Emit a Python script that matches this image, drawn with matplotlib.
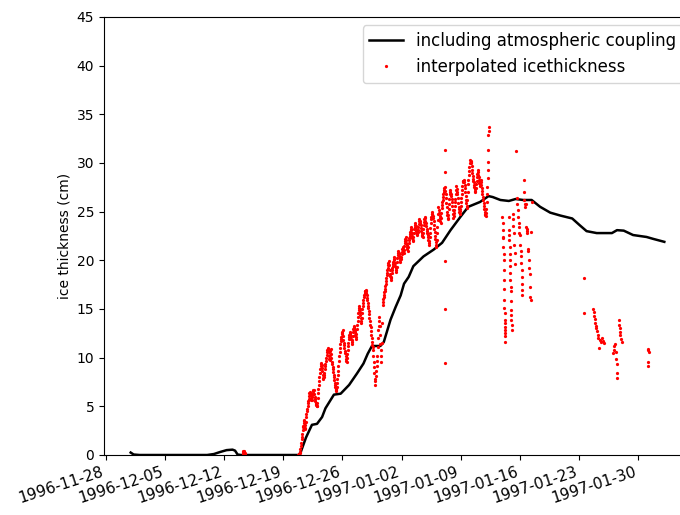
import numpy as np
import pandas as pd
import matplotlib
matplotlib.use("Agg")
import matplotlib.pyplot as plt
import matplotlib.dates as mdates

t0 = pd.Timestamp("1996-11-28 00:00")

# modelled ice thickness (cm), including atmospheric coupling
model_day = [2.95, 3.3, 4.0, 10.0, 12.0, 12.8, 13.5, 14.3, 15.0, 15.3, 15.6, 16.0,
             22.8, 23.05, 23.7, 24.4, 25.0, 25.6, 26.0, 27.0, 27.8, 28.8, 29.75,
             30.5, 31.0, 31.5, 32.5, 32.9, 33.7, 34.3, 34.9, 35.3, 35.85, 36.4,
             37.6, 38.8, 39.8, 40.8, 42.0, 42.9, 44.3, 45.3, 45.8, 46.7, 47.7,
             48.5, 49.4, 50.4, 51.4, 52.6, 53.8, 55.2, 56.1, 56.9, 58.1, 59.9,
             60.5, 61.3, 62.4, 64.0, 64.8, 66.1]
model_cm = [0.25, 0.05, 0.0, 0.0, 0.0, 0.1, 0.3, 0.5, 0.55, 0.45, 0.05, 0.0,
            0.0, 0.24, 1.8, 3.1, 3.2, 3.9, 4.8, 6.2, 6.3, 7.2, 8.4,
            9.4, 10.4, 11.2, 11.2, 11.6, 13.9, 15.2, 16.4, 17.6, 18.3, 19.4,
            20.4, 21.1, 21.8, 23.1, 24.5, 25.5, 26.0, 26.6, 26.5, 26.2, 26.1,
            26.3, 26.2, 26.2, 25.5, 24.9, 24.6, 24.3, 23.6, 23.0, 22.8, 22.8,
            23.1, 23.05, 22.6, 22.4, 22.2, 21.9]

# interpolated ice thickness (cm), hourly from 1996-12-20 18:00
obs_start = "1996-12-20 18:00"
obs_step = "1h"
obs_cm = [
    0.0, 0.0, 0.1, 0.0, 0.1, 0.2,
    0.3, 0.6, 0.9, 1.2, 1.6, 1.9, 2.2, 2.6, 2.9, 3.0, 3.3, 3.5, 3.6, 3.1, 2.7, 2.8, 3.4, 3.9, 4.2, 4.5, 4.7, 5.0, 5.3, 5.5,
    5.8, 6.1, 6.4, 6.5, 6.3, 6.4, 6.2, 5.9, 5.7, 5.6, 6.0, 6.2, 6.4, 6.6, 6.7, 6.7, 6.3, 6.0, 5.8, 5.5, 5.3, 5.2, 5.1, 5.0,
    5.0, 5.3, 5.9, 6.4, 6.8, 7.2, 7.6, 8.0, 8.4, 8.8, 9.1, 9.3, 9.5, 9.2, 8.9, 8.6, 8.2, 7.9, 7.8, 8.0, 8.2, 8.4, 8.8, 9.1,
    9.4, 9.7, 10.0, 10.3, 10.6, 10.8, 11.0, 10.9, 10.7, 10.6, 10.2, 9.9, 9.8, 10.3, 10.7, 10.9, 10.4, 10.0, 9.6, 9.3, 9.0, 8.8, 8.5, 8.2,
    8.0, 7.7, 7.4, 7.2, 7.0, 6.8, 6.6, 6.7, 7.0, 7.4, 7.8, 8.2, 8.6, 9.1, 9.7, 10.2, 10.6, 11.0, 11.4, 11.7, 11.9, 12.1, 12.4, 12.5,
    12.6, 12.8, 12.2, 11.8, 11.5, 11.3, 11.0, 10.7, 10.5, 10.2, 9.9, 9.7, 9.6, 10.0, 10.4, 10.8, 11.2, 11.5, 11.9, 12.1, 12.3, 12.5, 12.6, 12.4,
    12.2, 11.9, 11.6, 11.4, 11.8, 12.2, 12.6, 12.9, 13.1, 13.3, 13.0, 12.8, 12.6, 12.3, 12.1, 11.9, 12.4, 12.9, 13.4, 13.8, 14.2, 14.6, 14.9, 15.1,
    15.3, 15.0, 14.7, 14.4, 14.1, 13.8, 13.6, 14.1, 14.6, 15.0, 15.3, 15.6, 15.9, 16.2, 16.4, 16.6, 16.8, 16.9, 17.0, 16.9, 16.6, 16.4, 16.1, 15.9,
    15.6, 15.3, 15.1, 14.8, 14.5, 14.1, 13.8, 13.4, 13.1, 12.7, 12.3, 12.0, 11.6, 11.3, 11.1, 10.8, 10.2, 9.6, 9.0, 8.4, 7.8, 7.2, 7.6, 8.1,
    8.6, 9.1, 9.7, 10.2, 11.1, 12.0, 12.8, 13.3, 13.8, 14.2, 13.3, 12.3, 11.4, 10.8, 10.2, 9.6, 11.5, 13.6, 15.4, 15.7, 16.0, 16.2, 16.4, 16.7,
    16.9, 17.1, 17.4, 17.6, 17.9, 18.2, 18.5, 18.7, 19.0, 19.2, 19.5, 19.7, 19.9, 19.5, 19.0, 18.6, 18.4, 18.2, 18.0, 18.3, 18.7, 19.0, 19.2, 19.4,
    19.6, 19.8, 20.1, 20.3, 20.0, 19.7, 19.4, 19.2, 19.0, 18.8, 19.3, 19.8, 20.2, 20.5, 20.8, 21.0, 20.8, 20.6, 20.4, 20.2, 20.0, 19.8, 20.1, 20.3,
    20.6, 20.9, 21.2, 21.4, 21.2, 21.0, 20.8, 21.1, 21.5, 21.8, 22.0, 22.2, 22.4, 22.1, 21.8, 21.6, 21.4, 21.2, 21.0, 21.4, 21.8, 22.1, 22.3, 22.5,
    22.7, 22.9, 23.2, 23.4, 23.1, 22.8, 22.5, 22.3, 22.1, 22.0, 22.4, 22.8, 23.2, 23.4, 23.6, 23.8, 23.5, 23.2, 23.0, 22.8, 22.7, 22.6, 22.9, 23.1,
    23.4, 23.7, 24.0, 24.2, 24.0, 23.8, 23.6, 23.3, 23.0, 22.8, 22.6, 22.5, 22.4, 22.8, 23.2, 23.6, 23.9, 24.2, 24.5, 24.3, 24.0, 23.8, 23.5, 23.2,
    23.0, 22.8, 22.6, 22.4, 22.1, 21.8, 21.6, 22.0, 22.4, 22.8, 23.3, 23.8, 24.2, 24.5, 24.8, 25.0, 24.8, 24.6, 24.4, 24.0, 23.6, 23.2, 22.9, 22.5,
    22.2, 21.9, 21.6, 21.4, 22.1, 22.8, 23.4, 24.1, 24.8, 25.5, 25.2, 24.9, 24.6, 24.3, 24.0, 23.8, 24.3, 24.9, 25.4, 25.7, 26.0, 26.2, 26.5, 26.8,
    27.0, 27.2, 27.4, 27.5, 27.1, 26.8, 26.4, 25.9, 25.5, 25.0, 24.7, 24.4, 24.2, 24.7, 25.3, 25.8, 26.3, 26.8, 27.2, 27.0, 26.8, 26.6, 26.3, 26.0,
    25.6, 25.2, 24.8, 24.4, 24.6, 24.9, 25.2, 25.6, 26.0, 26.3, 26.8, 27.2, 27.6, 27.3, 27.0, 26.8, 26.4, 25.9, 25.5, 25.3, 25.0, 24.8, 25.1, 25.3,
    25.6, 26.0, 26.4, 26.8, 27.2, 27.6, 28.0, 28.1, 28.2, 28.3, 28.0, 27.7, 27.4, 27.0, 26.6, 26.2, 25.9, 25.6, 25.4, 26.2, 27.0, 27.8, 28.3, 28.8,
    29.2, 29.6, 30.0, 30.3, 30.2, 30.1, 30.0, 29.7, 29.3, 29.0, 28.7, 28.4, 28.2, 28.0, 27.7, 27.5, 27.3, 27.1, 27.0, 27.4, 27.8, 28.2, 28.6, 28.9,
    29.3, 29.1, 28.8, 28.6, 28.3, 27.9, 27.6, 27.8, 28.1, 28.3, 28.0, 27.7, 27.4, 27.1, 26.8, 26.5, 26.2, 25.9, 25.6, 25.3, 25.0, 24.8, 24.7, 24.9,
]

# scattered readings (day since 1996-11-28, cm)
extra_day = [
    16.2, 16.25, 16.3, 16.35, 16.4, 16.45, 16.5,
    40.2, 40.2, 40.2, 40.2, 40.2,
    45.0, 45.05, 45.1, 45.12, 45.15, 45.18, 45.2, 45.22, 45.25, 45.28, 45.3, 45.32,
    46.95, 46.97, 46.99, 47.01, 47.03, 47.05, 47.07, 47.09, 47.11, 47.13, 47.15,
    47.17, 47.18, 47.19, 47.2, 47.21, 47.22, 47.23, 47.24, 47.25, 47.26,
    47.7, 47.72, 47.74, 47.76, 47.78, 47.8, 47.82, 47.84, 47.86, 47.88, 47.9,
    47.92, 47.94, 47.96, 47.98, 48.0, 48.02, 48.04,
    48.15, 48.2, 48.25, 48.3, 48.35, 48.4, 48.45,
    48.6, 48.7, 48.72, 48.75, 48.8, 48.85, 48.9, 48.95, 49.0, 49.05, 49.1,
    49.12, 49.15, 49.2, 49.22, 49.25, 49.28, 49.3,
    49.45, 49.5, 49.55, 49.6, 49.65, 49.7, 49.75, 49.8, 49.85, 49.9, 49.95,
    50.0, 50.05, 50.1, 50.15, 50.2, 50.25, 50.3, 50.35, 50.4,
    56.6, 56.6,
    57.7, 57.75, 57.8, 57.85, 57.9, 58.0, 58.05, 58.1, 58.2, 58.3, 58.35,
    58.45, 58.55, 58.7, 58.85, 59.0,
    60.0, 60.1, 60.2, 60.3, 60.35, 60.4, 60.45, 60.5, 60.55,
    60.7, 60.75, 60.8, 60.85, 60.9, 61.0, 61.05,
    64.15, 64.2, 64.25, 64.2, 64.2,
]
extra_cm = [
    0.1, 0.3, 0.45, 0.4, 0.3, 0.2, 0.1,
    31.3, 29.1, 19.9, 15.0, 9.5,
    24.6, 25.3, 26.0, 26.8, 27.5, 28.5, 29.3, 30.1, 31.3, 32.9, 33.3, 33.7,
    24.5, 23.8, 23.1, 22.3, 22.4, 21.4, 20.7, 20.0, 19.0, 18.0, 17.1,
    15.9, 15.1, 14.6, 13.9, 13.6, 13.2, 12.8, 12.5, 12.2, 11.6,
    24.5, 23.1, 22.6, 22.1, 21.4, 20.7, 20.0, 19.4, 18.7, 18.0, 17.3,
    16.8, 15.8, 14.9, 14.4, 13.9, 13.4, 12.8,
    24.8, 24.2, 23.5, 22.8, 21.6, 20.8, 19.6,
    31.2, 26.4, 25.8, 25.2, 24.5, 23.8, 23.4, 22.8, 22.6, 21.6, 21.0,
    20.4, 19.7, 19.0, 18.3, 17.6, 17.0, 16.4,
    28.3, 27.0, 26.2, 25.8, 25.5, 25.8, 23.4, 23.0, 22.8, 23.2, 21.0,
    21.2, 20.0, 19.2, 18.6, 17.3, 16.2, 15.9, 22.9, 26.0,
    18.2, 14.6,
    15.0, 14.7, 14.3, 14.0, 13.6, 13.3, 13.0, 12.7, 12.3, 12.0, 11.0,
    11.8, 11.6, 12.0, 11.7, 11.5,
    10.5, 10.8, 11.2, 11.4, 10.6, 9.9, 9.4, 8.4, 7.9,
    13.9, 13.4, 13.0, 12.6, 12.3, 11.9, 11.6,
    10.9, 10.8, 10.6, 9.6, 9.1,
]

tick_dates = ["1996-11-28", "1996-12-05", "1996-12-12", "1996-12-19",
              "1996-12-26", "1997-01-02", "1997-01-09", "1997-01-16",
              "1997-01-23", "1997-01-30"]

model_t = t0 + pd.to_timedelta(model_day, unit="D")
obs_t = pd.date_range(obs_start, periods=len(obs_cm), freq=obs_step)
extra_t = t0 + pd.to_timedelta(extra_day, unit="D")

obs_all_t = np.concatenate([obs_t.to_numpy(), extra_t.to_numpy()])
obs_all_cm = np.concatenate([obs_cm, extra_cm])

fig = plt.figure(figsize=(6.8, 5.15), dpi=100)
ax = fig.add_axes([104 / 680, 60 / 515, (691 - 104) / 680, 438 / 515])

ax.plot(model_t, model_cm, color="black", lw=1.8,
        label="including atmospheric coupling")
ax.plot(obs_all_t, obs_all_cm, ".", color="red", ms=2.6, lw=0,
        label="interpolated icethickness")

ax.set_ylim(0, 45)
ax.set_yticks(np.arange(0, 46, 5))
ax.set_ylabel("ice thickness (cm)")

ax.set_xticks(pd.to_datetime(tick_dates))
ax.xaxis.set_major_formatter(mdates.DateFormatter("%Y-%m-%d"))
for lab in ax.get_xticklabels():
    lab.set_rotation(18)
    lab.set_ha("right")
    lab.set_fontsize(11)

ax.legend(loc="upper right", fontsize=12)

fig.savefig("out.png", dpi=100)
